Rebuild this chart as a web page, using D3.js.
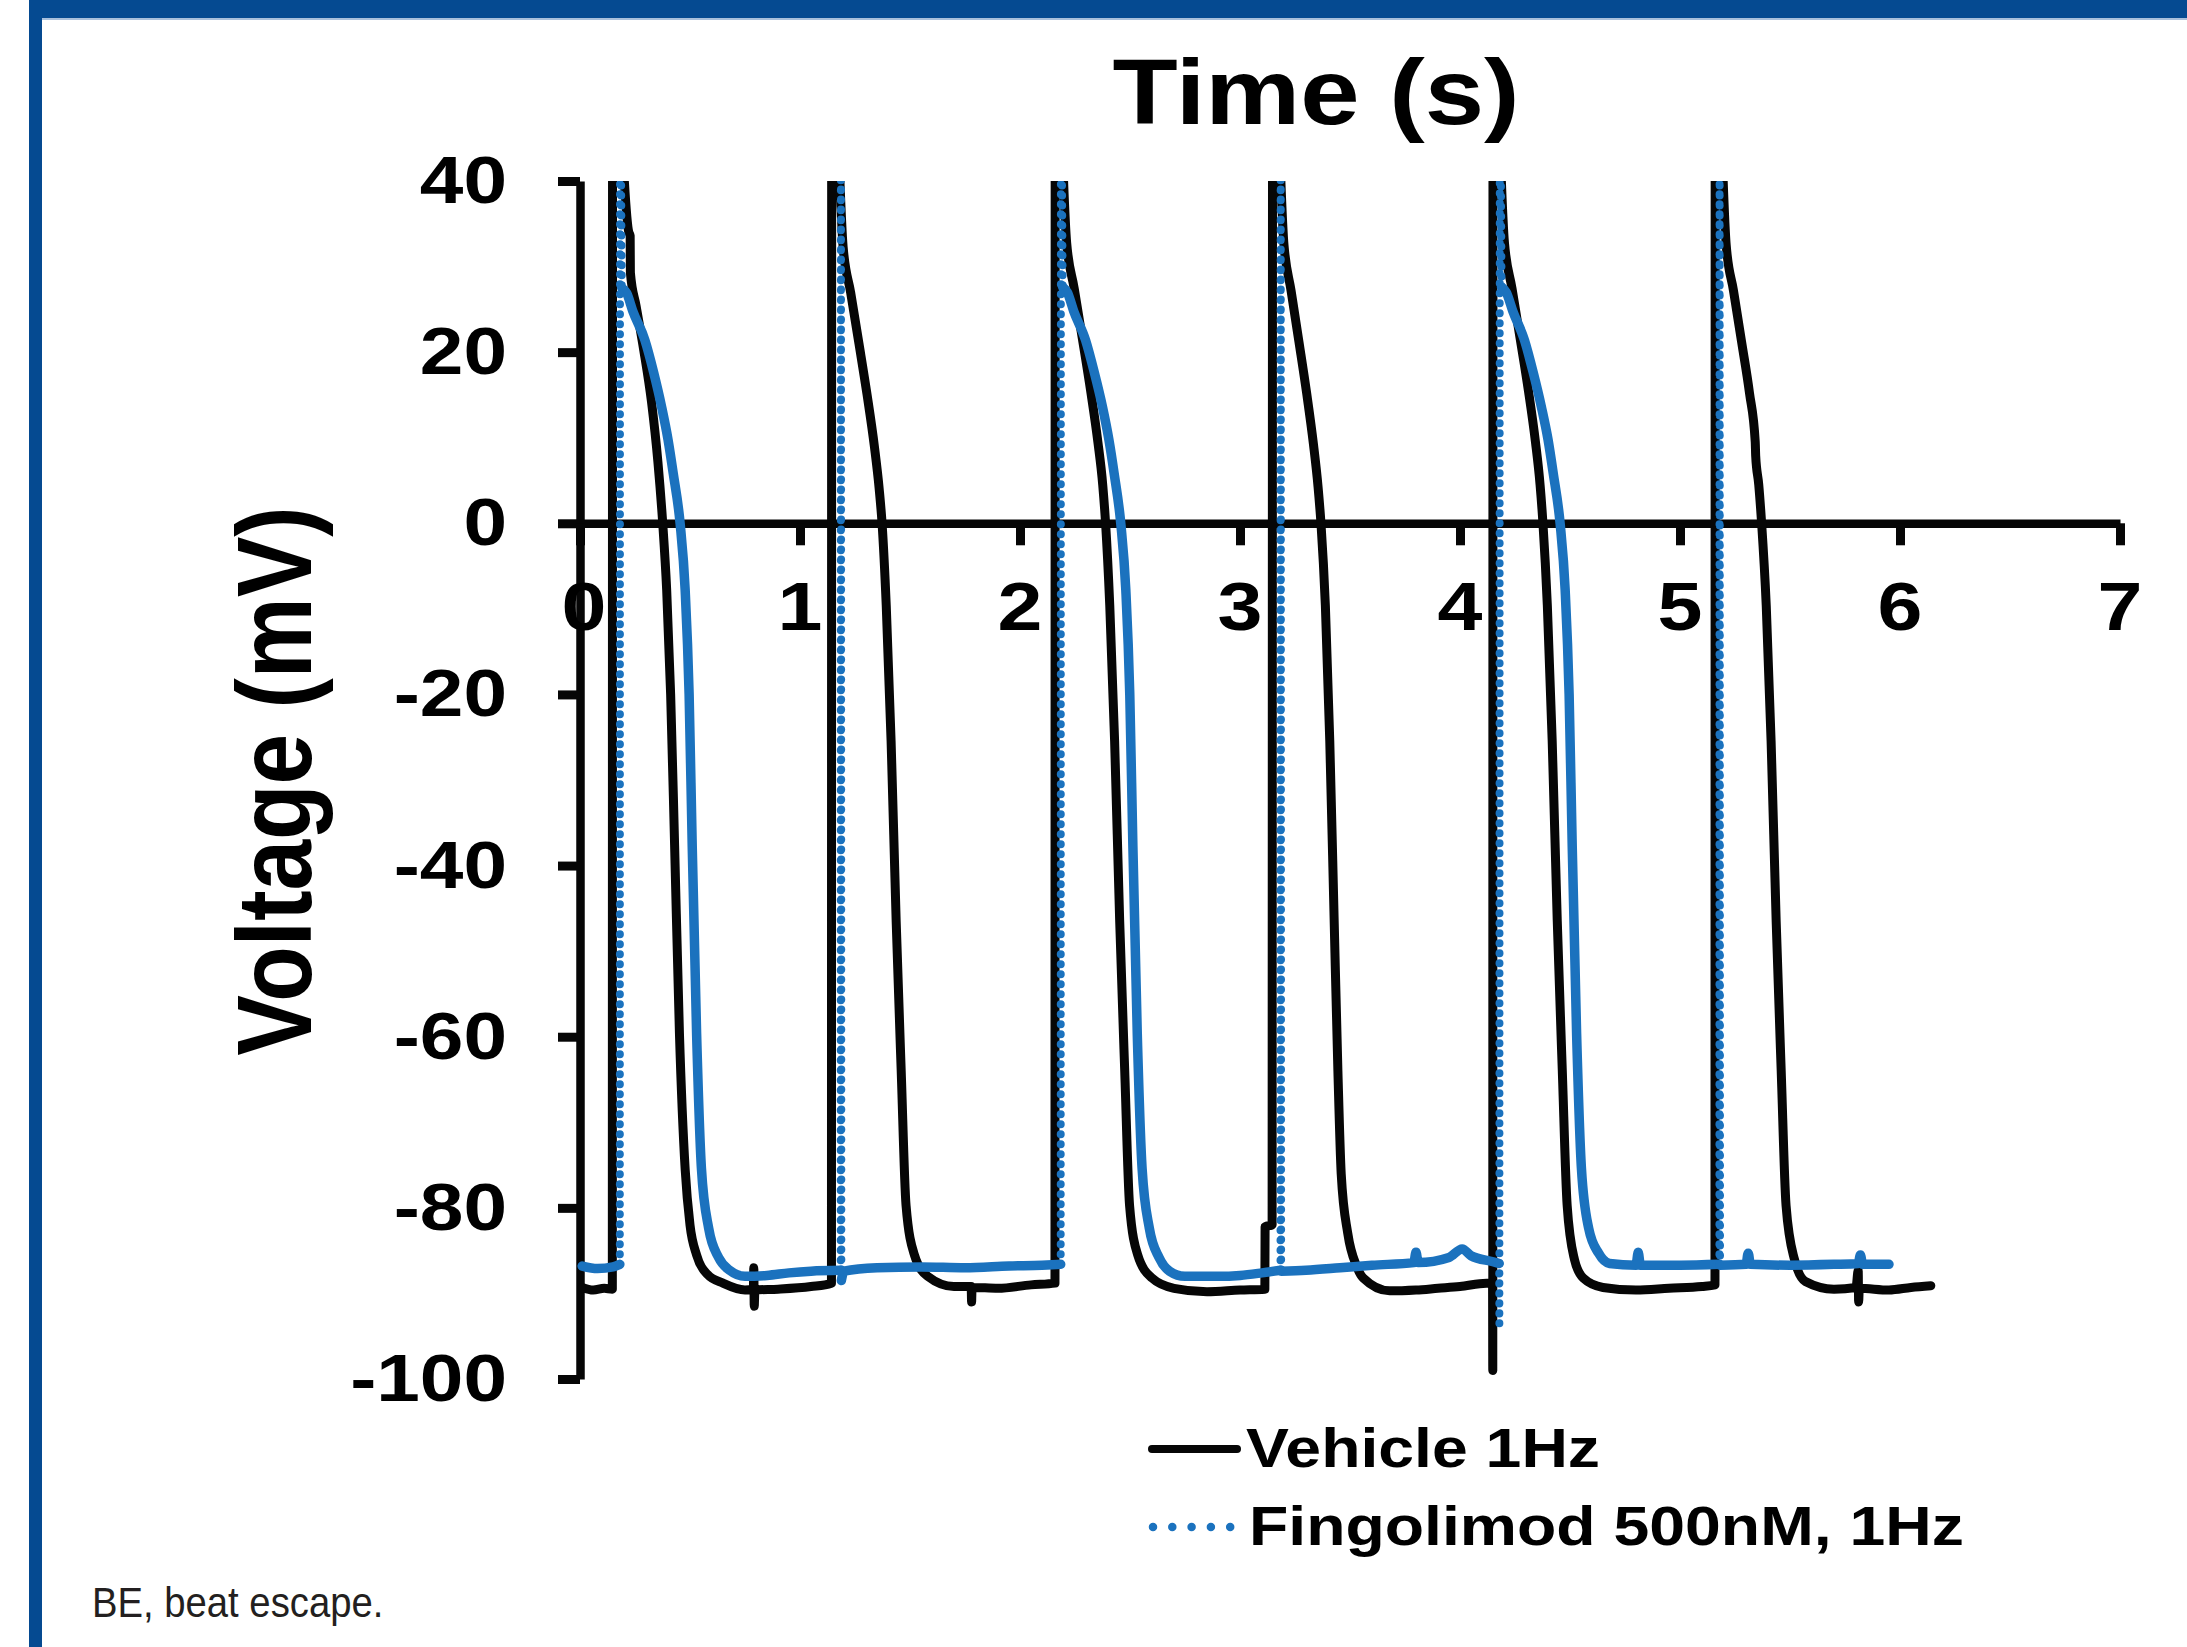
<!DOCTYPE html>
<html>
<head>
<meta charset="utf-8">
<script src="https://cdn.jsdelivr.net/npm/d3@7"></script>
<style>
html,body{margin:0;padding:0;background:#fff;}
svg{display:block;}
</style>
</head>
<body>
<script>
// ---------- data ----------
const timeTicks = [0, 1, 2, 3, 4, 5, 6, 7];
const voltTicks = [40, 20, 0, -20, -40, -60, -80, -100];
const seriesNames = ["Vehicle 1Hz", "Fingolimod 500nM, 1Hz"];
const titleText = "Time (s)";
const yTitle = "Voltage (mV)";
const footnote = "BE, beat escape.";

// Vehicle 1Hz trace: [time (s), voltage (mV)]
const vehicle = [
[0.01,-89.3],[0.06,-89.6],[0.11,-89.4],[0.147,-89.5],
[0.148,60],
[0.222,34],[0.228,33.6],[0.229,29.3],[0.255,25.4],[0.29,20.2],[0.325,14.2],[0.354,7.2],[0.376,0],[0.394,-7.8],[0.412,-20],[0.43,-37.6],[0.452,-59.6],[0.478,-75.5],[0.5,-82],[0.53,-85.5],[0.58,-87.8],[0.65,-88.8],[0.75,-89.6],[0.788,-89.5],[0.79,-87],[0.792,-91.5],[0.795,-89.6],[0.9,-89.5],[1.05,-89.2],[1.143,-88.8],
[1.144,60],
[1.196,32.3],[1.23,27],[1.268,21],[1.305,15],[1.338,9],[1.36,4],[1.373,0],[1.392,-9.6],[1.414,-25.4],[1.437,-46.4],[1.46,-64],[1.482,-79.7],[1.52,-85.5],[1.58,-88],[1.7,-89.2],[1.778,-89.2],[1.78,-91],[1.782,-89.3],[1.9,-89.4],[2.05,-89],[2.159,-88.8],
[2.16,60],
[2.212,32.8],[2.246,27.5],[2.284,21.5],[2.321,15.5],[2.354,9.5],[2.376,4.5],[2.389,0],[2.408,-9.6],[2.43,-25.4],[2.453,-46.4],[2.476,-64],[2.498,-79.7],[2.535,-85.5],[2.6,-88.2],[2.7,-89.4],[2.85,-89.8],[3.0,-89.6],[3.113,-89.5],[3.114,-82.2],[3.146,-82],
[3.148,60],
[3.2,32.5],[3.232,27.2],[3.268,21.2],[3.303,15.2],[3.334,9.2],[3.355,4.2],[3.368,0],[3.388,-9.6],[3.408,-25.4],[3.428,-46.4],[3.445,-64],[3.46,-76],[3.49,-83],[3.53,-86.8],[3.56,-88.2],[3.68,-89.7],[3.8,-89.6],[3.9,-89.4],[4.0,-89.2],[4.12,-88.8],[4.148,-88.8],
[4.149,-99],[4.15,60],
[4.202,32.8],[4.236,27.5],[4.274,21.5],[4.311,15.5],[4.343,9.5],[4.364,4.5],[4.377,0],[4.397,-9.6],[4.419,-25.4],[4.442,-46.4],[4.465,-64],[4.487,-79.7],[4.52,-86],[4.56,-88.2],[4.65,-89.3],[4.8,-89.6],[4.95,-89.4],[5.1,-89.2],[5.159,-89],
[5.16,60],
[5.21,32.5],[5.243,27.2],[5.28,21.2],[5.316,15.2],[5.342,9.5],[5.344,7.9],[5.358,4.5],[5.371,0],[5.392,-9.6],[5.414,-25.4],[5.437,-46.4],[5.46,-64],[5.482,-79.7],[5.52,-86],[5.57,-88.6],[5.7,-89.5],[5.8,-89.3],[5.81,-87.3],[5.812,-91],[5.815,-89.4],[5.95,-89.6],[6.05,-89.3],[6.14,-89.1]
];

// Fingolimod 500nM, 1Hz trace: [time (s), voltage (mV)]
const fingolimod = [
[0.01,-86.8],[0.08,-87.1],[0.15,-86.9],[0.181,-86.6],
[0.182,60],[0.19,27.5],
[0.212,26.9],[0.24,24.8],[0.295,21.4],[0.335,17.6],[0.371,13.6],[0.4,9.8],[0.424,5.8],[0.455,0],[0.478,-7.8],[0.496,-20],[0.51,-37.6],[0.53,-59.6],[0.552,-75.4],[0.585,-82.4],[0.63,-85.8],[0.68,-87.3],[0.75,-88],[0.85,-87.9],[0.95,-87.6],[1.05,-87.4],[1.185,-87.3],
[1.186,60],[1.188,-88.5],[1.2,-87.4],[1.35,-87.0],[1.55,-86.9],[1.75,-87],[1.95,-86.8],[2.1,-86.7],[2.185,-86.6],
[2.186,60],[2.194,27.6],
[2.215,27],[2.244,24.8],[2.298,21.4],[2.338,17.6],[2.375,13.6],[2.404,9.8],[2.428,5.8],[2.458,0],[2.481,-7.8],[2.499,-20],[2.513,-37.6],[2.533,-59.6],[2.555,-75.4],[2.588,-82.4],[2.632,-85.8],[2.68,-87.4],[2.75,-88],[2.9,-88],[3.0,-87.9],[3.1,-87.6],[3.184,-87.3],
[3.185,60],[3.187,-87.4],[3.3,-87.3],[3.455,-87],[3.6,-86.7],[3.79,-86.4],[3.8,-85.2],[3.81,-86.4],[3.95,-85.8],[4.01,-84.8],[4.05,-85.6],[4.15,-86.3],[4.178,-86.5],
[4.179,-93.5],[4.181,60],[4.189,27.6],
[4.21,27],[4.24,24.8],[4.293,21.4],[4.333,17.6],[4.37,13.6],[4.4,9.8],[4.424,5.8],[4.455,0],[4.478,-7.8],[4.496,-20],[4.51,-37.6],[4.53,-59.6],[4.552,-75.4],[4.585,-82.4],[4.63,-85.3],[4.68,-86.5],[4.8,-86.7],[4.81,-85.2],[4.82,-86.7],[5.0,-86.7],[5.179,-86.6],
[5.18,60],[5.182,-86.7],[5.3,-86.6],[5.31,-85.3],[5.32,-86.6],[5.5,-86.7],[5.7,-86.6],[5.81,-86.5],[5.82,-85.5],[5.83,-86.6],[5.95,-86.6]
];

// ---------- layout ----------
const W = 2187, H = 1647;
const BLUE = "#1b72be", BLACK = "#060606", BAR = "#054a91";
const FONT = "'Liberation Sans', Arial, Helvetica, sans-serif";
const STRETCH = 1.17;

const x = d3.scaleLinear().domain([0, 7]).range([580, 2120]);
const y = d3.scaleLinear().domain([40, -100]).range([181, 1379]);

const svg = d3.select("body").append("svg")
  .attr("width", W).attr("height", H)
  .attr("viewBox", `0 0 ${W} ${H}`);

svg.append("rect").attr("width", W).attr("height", H).attr("fill", "#fff");

// frame bars
svg.append("rect").attr("x", 29).attr("y", 0).attr("width", W - 29).attr("height", 18).attr("fill", BAR);
svg.append("rect").attr("x", 42).attr("y", 18).attr("width", W - 42).attr("height", 2).attr("fill", "#a9c0dc");
svg.append("rect").attr("x", 29).attr("y", 0).attr("width", 13).attr("height", H).attr("fill", BAR);

// clip for traces
svg.append("defs").append("clipPath").attr("id", "plotclip")
  .append("rect").attr("x", 540).attr("y", y(40)).attr("width", 1620).attr("height", 1300);

// ---------- axes ----------
const yAxis = d3.axisLeft(y).tickValues(voltTicks).tickSize(22).tickSizeOuter(0).tickFormat("");
const gy = svg.append("g").attr("transform", `translate(${x(0)},0)`).call(yAxis);
const xAxis = d3.axisBottom(x).tickValues(timeTicks).tickSize(22).tickSizeOuter(0).tickFormat("");
const gx = svg.append("g").attr("transform", `translate(0,${y(0)})`).call(xAxis);
[gy, gx].forEach(g => {
  g.select(".domain").attr("stroke", BLACK).attr("stroke-width", 8.5);
  g.selectAll(".tick line").attr("stroke", BLACK).attr("stroke-width", 9);
});

// y tick labels
svg.append("g").selectAll("text").data(voltTicks).join("text")
  .attr("transform", d => `translate(507,${y(d) + 22}) scale(${STRETCH},1)`)
  .attr("text-anchor", "end")
  .attr("font-family", FONT).attr("font-weight", "bold").attr("font-size", 67)
  .attr("fill", "#000")
  .text(d => d);

// x tick labels
svg.append("g").selectAll("text").data(timeTicks).join("text")
  .attr("transform", d => `translate(${x(d) + (d === 0 ? 4 : 0)},${y(0) + 107}) scale(${STRETCH},1)`)
  .attr("text-anchor", "middle")
  .attr("font-family", FONT).attr("font-weight", "bold").attr("font-size", 69)
  .attr("fill", "#000")
  .text(d => d);

// titles
svg.append("text")
  .attr("transform", `translate(1316,124) scale(1.16,1)`)
  .attr("text-anchor", "middle")
  .attr("font-family", FONT).attr("font-weight", "bold").attr("font-size", 92)
  .attr("fill", "#000").text(titleText);

svg.append("text")
  .attr("transform", `translate(311,781) scale(${STRETCH},1) rotate(-90)`)
  .attr("text-anchor", "middle")
  .attr("font-family", FONT).attr("font-weight", "bold").attr("font-size", 91)
  .attr("fill", "#000").text(yTitle);

// ---------- traces ----------
const line = d3.line().x(d => x(d[0])).y(d => y(d[1])).curve(d3.curveMonotoneX);
const plot = svg.append("g").attr("clip-path", "url(#plotclip)");

plot.append("path").datum(vehicle)
  .attr("d", line).attr("fill", "none")
  .attr("stroke", BLACK).attr("stroke-width", 9)
  .attr("stroke-linejoin", "round").attr("stroke-linecap", "round");

// split the fingolimod trace into sparse near-vertical jumps (drawn as dots) and dense parts (solid)
function runs(data) {
  const out = [];
  let cur = null;
  for (let i = 1; i < data.length; i++) {
    const dx = Math.abs(x(data[i][0]) - x(data[i - 1][0]));
    const type = dx < 2 ? "dot" : "solid";
    if (!cur || cur.type !== type) { cur = { type, pts: [data[i - 1]] }; out.push(cur); }
    cur.pts.push(data[i]);
  }
  return out;
}
const fr = runs(fingolimod);
plot.selectAll("path.fs").data(fr.filter(r => r.type === "solid")).join("path")
  .attr("class", "fs")
  .attr("d", r => line(r.pts)).attr("fill", "none")
  .attr("stroke", BLUE).attr("stroke-width", 9.5)
  .attr("stroke-linejoin", "round").attr("stroke-linecap", "round");
plot.selectAll("path.fd").data(fr.filter(r => r.type === "dot")).join("path")
  .attr("class", "fd")
  .attr("d", r => d3.line().x(d => x(d[0])).y(d => y(d[1]))(r.pts)).attr("fill", "none")
  .attr("stroke", BLUE).attr("stroke-width", 8)
  .attr("stroke-dasharray", "0 10")
  .attr("stroke-linecap", "round");

// ---------- legend ----------
const lg = svg.append("g");
lg.append("line").attr("x1", 1152).attr("x2", 1237).attr("y1", 1449).attr("y2", 1449)
  .attr("stroke", BLACK).attr("stroke-width", 8).attr("stroke-linecap", "round");
lg.append("line").attr("x1", 1153).attr("x2", 1231).attr("y1", 1527).attr("y2", 1527)
  .attr("stroke", BLUE).attr("stroke-width", 8.5).attr("stroke-linecap", "round")
  .attr("stroke-dasharray", "0 19.3");
lg.selectAll("text").data(seriesNames).join("text")
  .attr("transform", (d, i) => `translate(${i === 0 ? 1246 : 1249},${i === 0 ? 1467 : 1545}) scale(${STRETCH},1)`)
  .attr("font-family", FONT).attr("font-weight", "bold").attr("font-size", 55)
  .attr("fill", "#000").text(d => d);

// footnote
svg.append("text")
  .attr("transform", "translate(92,1617) scale(0.89,1)")
  .attr("font-family", FONT).attr("font-size", 43)
  .attr("fill", "#231f20").text(footnote);
</script>
</body>
</html>
